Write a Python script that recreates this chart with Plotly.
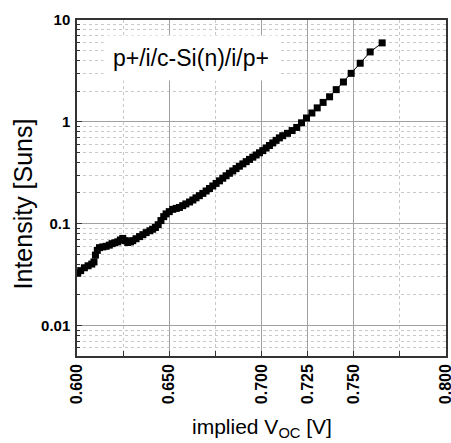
import plotly.graph_objects as go

# implied Voc [V]
voc = [0.6004, 0.6020, 0.6040, 0.6060, 0.6080, 0.6092, 0.6100, 0.6110, 0.6122, 0.6140,
       0.6158, 0.6175, 0.6190, 0.6205, 0.6221, 0.6235, 0.6248, 0.6262, 0.6275, 0.6290,
       0.6302, 0.6320, 0.6339, 0.6357, 0.6375, 0.6395, 0.6410, 0.6425, 0.6440, 0.6455,
       0.6470, 0.6483, 0.6500, 0.6519, 0.6538, 0.6555, 0.6573, 0.6590, 0.6610, 0.6628,
       0.6645, 0.6663, 0.6682, 0.6700, 0.6718, 0.6736, 0.6754, 0.6772, 0.6790, 0.6808,
       0.6826, 0.6844, 0.6862, 0.6880, 0.6899, 0.6917, 0.6935, 0.6953, 0.6971, 0.6989,
       0.7007, 0.7025, 0.7043, 0.7061, 0.7079, 0.7097, 0.7115, 0.7141, 0.7166, 0.7191,
       0.7217, 0.7244, 0.7273, 0.7302, 0.7334, 0.7369, 0.7405, 0.7444, 0.7486, 0.7535,
       0.7589, 0.7654]
# intensity [Suns]
suns = [0.0325, 0.0345, 0.0368, 0.0385, 0.0400, 0.0420, 0.0490, 0.0545, 0.0580, 0.0590,
        0.0598, 0.0614, 0.0635, 0.0648, 0.0662, 0.0690, 0.0715, 0.0680, 0.0652, 0.0662,
        0.0680, 0.0710, 0.0745, 0.0778, 0.0815, 0.0850, 0.0880, 0.0915, 0.0975, 0.1070,
        0.1170, 0.1245, 0.1310, 0.1380, 0.1410, 0.1440, 0.1500, 0.1560, 0.1630, 0.1705,
        0.1790, 0.1880, 0.1980, 0.2090, 0.2210, 0.2340, 0.2480, 0.2630, 0.2790, 0.2950,
        0.3120, 0.3290, 0.3470, 0.3660, 0.3860, 0.4060, 0.4270, 0.4490, 0.4720, 0.4960,
        0.5210, 0.5520, 0.5850, 0.6200, 0.6570, 0.6950, 0.7300, 0.7700, 0.8200, 0.8800,
        0.9770, 1.0900, 1.2200, 1.3700, 1.5500, 1.7600, 2.0700, 2.4600, 2.9900, 3.7600,
        4.8600, 5.9600]

x_tickvals = [0.600, 0.650, 0.700, 0.725, 0.750, 0.800]
x_ticktext = ["0.600", "0.650", "0.700", "0.725", "0.750", "0.800"]
x_minorvals = [0.625, 0.675, 0.775]
y_tickvals = [0.01, 0.1, 1, 10]
y_ticktext = ["0.01", "0.1", "1", "10"]
y_minorvals = [m * d for d in [0.001, 0.01, 0.1, 1] for m in range(2, 10)]

label_text = "p+/i/c-Si(n)/i/p+"

FONT = "Arial, Liberation Sans, sans-serif"
L, R, T, B = 77, 5, 20, 87
W, H = 451, 443

fig = go.Figure()
fig.add_trace(go.Scatter(
    x=voc, y=suns, mode="lines+markers",
    line=dict(color="black", width=1),
    marker=dict(symbol="square", size=7, color="black", line=dict(width=0)),
    showlegend=False, cliponaxis=True,
))

fig.update_layout(
    width=W, height=H,
    margin=dict(l=L, r=R, t=T, b=B, autoexpand=False),
    paper_bgcolor="white", plot_bgcolor="white",
    font=dict(family=FONT, color="black"),
    annotations=[
        dict(text=label_text, x=0.308, y=0.887, xref="paper", yref="paper",
             xanchor="center", yanchor="middle", showarrow=False,
             font=dict(size=23, family=FONT, color="black"),
             bgcolor="white", borderpad=9),
        dict(text="Intensity [Suns]", x=(23 - L) / (W - L - R), y=0.451,
             xref="paper", yref="paper",
             textangle=-90, showarrow=False, xanchor="center", yanchor="middle",
             font=dict(size=25, family=FONT, color="black")),
        dict(text="implied V<sub>OC</sub> [V]", x=0.500, y=(H - 428 - B) / (H - T - B),
             xref="paper", yref="paper", showarrow=False,
             xanchor="center", yanchor="middle",
             font=dict(size=21, family=FONT, color="black")),
    ],
)

fig.update_xaxes(
    range=[0.6, 0.8], tickmode="array", tickvals=x_tickvals, ticktext=x_ticktext,
    tickangle=-90, tickfont=dict(size=16, family=FONT, color="black", weight="bold"),
    ticks="inside", ticklen=5, tickcolor="#333", tickwidth=1,
    ticklabeloverflow="allow", automargin=False,
    showgrid=True, gridcolor="#a0a0a0", gridwidth=1,
    minor=dict(tickmode="array", tickvals=x_minorvals, ticks="inside", ticklen=5,
               tickcolor="#333", showgrid=True, gridcolor="#c8c8c8", griddash="dot", gridwidth=1),
    showline=True, linecolor="#333", linewidth=1.5, mirror=True,
    zeroline=False,
)
fig.update_yaxes(
    type="log", range=[-2.301, 1.0], tickmode="array", tickvals=y_tickvals, ticktext=y_ticktext,
    tickfont=dict(size=15, family=FONT, color="black", weight="bold"),
    ticks="inside", ticklen=5, tickcolor="#333", tickwidth=1,
    ticklabeloverflow="allow", automargin=False,
    showgrid=True, gridcolor="#a0a0a0", gridwidth=1,
    minor=dict(tickmode="array", tickvals=y_minorvals, ticks="inside", ticklen=3,
               tickcolor="#333", showgrid=True, gridcolor="#c8c8c8", griddash="dot", gridwidth=1),
    showline=True, linecolor="#333", linewidth=1.5, mirror=True,
    zeroline=False, ticklabelstandoff=2,
)

fig.write_html("out.html", config={"displayModeBar": False},
               post_script="document.body.style.margin='0';document.body.style.overflow='hidden';")
